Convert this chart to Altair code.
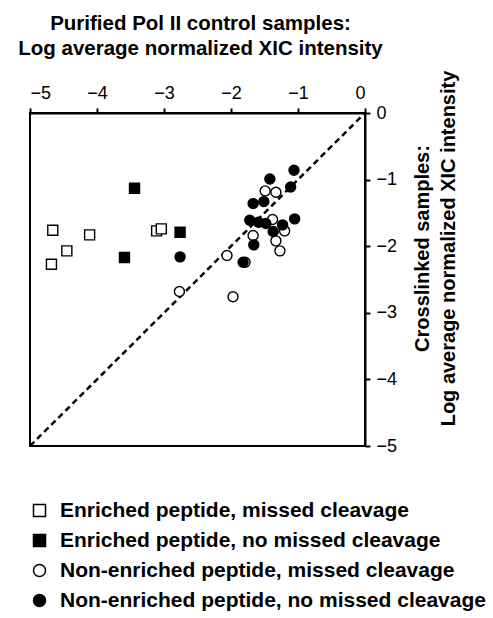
import altair as alt
import pandas as pd

categories = [
    "Enriched peptide, missed cleavage",
    "Enriched peptide, no missed cleavage",
    "Non-enriched peptide, missed cleavage",
    "Non-enriched peptide, no missed cleavage",
]
shapes = ["square", "square", "circle", "circle"]
fills = ["white", "black", "white", "black"]
strokes = ["black", "black", "black", "black"]

a_x = [-4.66, -4.11, -4.45, -4.68, -3.11, -3.04]
a_y = [-1.76, -1.83, -2.07, -2.27, -1.77, -1.74]
b_x = [-3.44, -2.76, -3.59]
b_y = [-1.13, -1.79, -2.17]
c_x = [-2.77, -1.49, -1.33, -1.38, -1.20, -1.67, -1.33, -1.27, -2.06, -1.79, -1.97]
c_y = [-2.68, -1.17, -1.19, -1.60, -1.77, -1.84, -1.92, -2.07, -2.14, -2.24, -2.76]
d_x = [-2.76, -1.06, -1.42, -1.11, -1.67, -1.51, -1.72, -1.59, -1.48, -1.23, -1.05, -1.37, -1.66, -1.82]
d_y = [-2.16, -0.86, -0.99, -1.11, -1.36, -1.33, -1.61, -1.64, -1.66, -1.68, -1.59, -1.78, -1.98, -2.24]

diag = [-5, 0]

rows = []
for cat, xs, ys in zip(categories, [a_x, b_x, c_x, d_x], [a_y, b_y, c_y, d_y]):
    for x, y in zip(xs, ys):
        rows.append({"x": x, "y": y, "cat": cat})
df = pd.DataFrame(rows)
diag_df = pd.DataFrame({"x": diag, "y": diag})

xscale = alt.Scale(domain=[-5, 0], nice=False, zero=False)
yscale = alt.Scale(domain=[-5, 0], nice=False, zero=False)

xaxis = alt.Axis(
    orient="top", values=[-5, -4, -3, -2, -1, 0], grid=False, format="d",
    title=["Purified Pol II control samples:", "Log average normalized XIC intensity"],
    titleFontSize=20.5, titleFontWeight="bold", titleLineHeight=25,
    titleBaseline="alphabetic", titleY=-84, titleX=170, titleAlign="center",
    labelFontSize=18, labelPadding=6, tickSize=5, tickWidth=2, domainWidth=2,
    domainColor="black", tickColor="black", labelColor="black", titleColor="black",
    labelFont="Liberation Sans", titleFont="Liberation Sans",
)
yaxis = alt.Axis(
    orient="right", values=[0, -1, -2, -3, -4, -5], grid=False, format="d",
    title=["Crosslinked samples:", "Log average normalized XIC intensity"],
    titleFontSize=20, titleFontWeight="bold", titleLineHeight=26,
    titleAngle=270, titleBaseline="alphabetic", titleX=63, titleY=135, titleAlign="center",
    labelFontSize=18, labelPadding=6, tickSize=5, tickWidth=2, domainWidth=2,
    domainColor="black", tickColor="black", labelColor="black", titleColor="black",
    labelFont="Liberation Sans", titleFont="Liberation Sans",
)

legend = alt.Legend(
    title=None, orient="none", legendX=-1, legendY=387, padding=0,
    labelFontSize=21, labelFontWeight="bold", labelColor="black",
    labelFont="Liberation Sans", symbolSize=144, symbolStrokeColor="black",
    symbolStrokeWidth=1.5, labelOffset=10, rowPadding=8, symbolOffset=0,
    labelLimit=500,
)

line = alt.Chart(diag_df).mark_line(
    color="black", strokeDash=[6, 4], strokeWidth=2.5
).encode(
    x=alt.X("x:Q", scale=xscale, axis=xaxis),
    y=alt.Y("y:Q", scale=yscale, axis=yaxis),
)

pts = alt.Chart(df).mark_point(
    filled=False, strokeWidth=1.4, size=100, opacity=1
).encode(
    x=alt.X("x:Q", scale=xscale),
    y=alt.Y("y:Q", scale=yscale),
    shape=alt.Shape("cat:N", scale=alt.Scale(domain=categories, range=shapes),
                    legend=legend),
    fill=alt.Fill("cat:N", scale=alt.Scale(domain=categories, range=fills),
                  legend=legend),
    stroke=alt.Stroke("cat:N", scale=alt.Scale(domain=categories, range=strokes),
                      legend=legend),
)

chart = alt.layer(line, pts).properties(
    width=335, height=333,
    background="white",
    autosize=alt.AutoSizeParams(type="none"),
    padding={"left": 30, "top": 113, "right": 128, "bottom": 172},
).configure_view(
    stroke="black", strokeWidth=2
)

chart.save("out.html", embed_options={"renderer": "svg", "actions": False})
